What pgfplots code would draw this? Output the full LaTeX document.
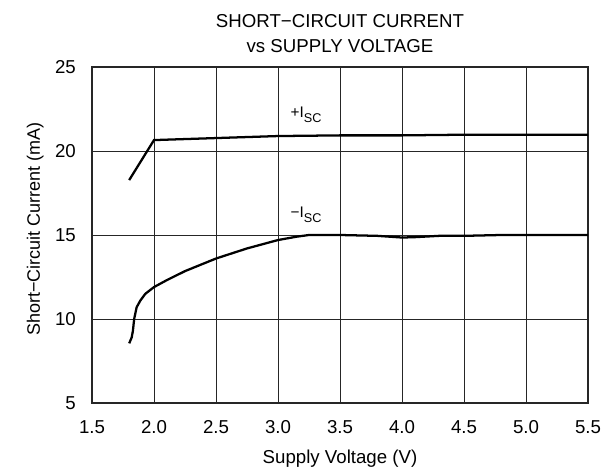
\documentclass[border=0pt]{standalone}
\usepackage{pgfplots}
\pgfplotsset{compat=1.18}
\usepackage{fontspec}
\setmainfont{Liberation Sans}

\newcommand{\isc}[1]{{\fontsize{11.5}{13}\selectfont #1I\raisebox{-3.8pt}{\fontsize{9.5}{11}\selectfont SC}}}

\begin{document}
\fontsize{14}{16.8}\selectfont
\begin{tikzpicture}
\begin{axis}[
    scale only axis,
    width=372pt, height=252pt,
    xmin=1.5, xmax=5.5, ymin=5, ymax=25,
    xtick={1.5,2,...,5.5}, ytick={5,10,...,25},
    grid=major,
    major grid style={black!85, line width=0.6pt},
    major tick length=0pt,
    axis line style={black!85, line width=1.5pt},
    /pgf/number format/assume math mode=true,
    xticklabel style={/pgf/number format/.cd, fixed, fixed zerofill, precision=1},
    yticklabel style={/pgf/number format/fixed},
    xticklabel shift=8.3pt, yticklabel shift=7.3pt,
    xlabel={Supply Voltage (V)},
    ylabel={Short−Circuit Current (mA)},
    every axis x label/.style={at={([yshift=-45.2pt]axis description cs:0.5,0)}, anchor=base},
    every axis y label/.style={at={([xshift=-39pt]axis description cs:0,0.518)}, rotate=90, anchor=base,
        font=\fontsize{13.5}{16}\selectfont},
    title={SHORT−CIRCUIT CURRENT\\vs SUPPLY VOLTAGE},
    every axis title/.style={at={([yshift=10.7pt]axis description cs:0.5,1)}, anchor=base, align=center,
        font=\fontsize{14}{19}\selectfont},
]
\addplot[black, line width=1.7pt] coordinates {
    (1.80,18.27) (2.00,20.65) (2.5,20.77) (3.0,20.89) (3.5,20.93)
    (4.0,20.93) (4.5,20.97) (5.0,20.97) (5.5,20.97)
};
\addplot[black, line width=1.7pt] coordinates {
    (1.80,8.55) (1.82,8.9) (1.83,9.3) (1.84,10.0) (1.86,10.7) (1.89,11.1)
    (1.93,11.5) (2.0,11.9) (2.1,12.3) (2.25,12.85) (2.5,13.6) (2.75,14.2)
    (3.0,14.7) (3.15,14.9) (3.25,15.0) (3.5,15.0) (3.8,14.95) (4.0,14.85)
    (4.1,14.87) (4.3,14.95) (4.5,14.95) (4.8,15.0) (5.5,15.0)
};
\node[anchor=base west, inner sep=0pt] at (axis cs:3.10,22.0) {\isc{+}};
\node[anchor=base west, inner sep=0pt] at (axis cs:3.10,16.05) {\isc{−}};
\end{axis}
\pgfresetboundingbox
\path[use as bounding box] ([shift={(-69pt,-48.75pt)}]current axis.south west)
    rectangle ([shift={(15.75pt,50.25pt)}]current axis.north east);
\end{tikzpicture}
\end{document}
